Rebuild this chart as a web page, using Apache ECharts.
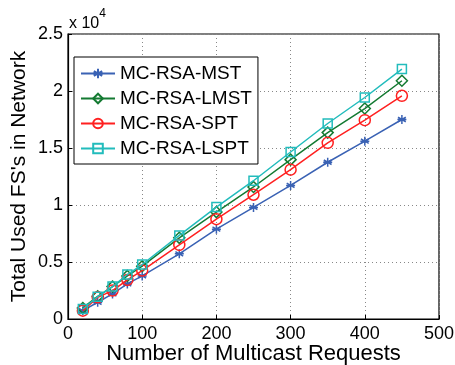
<!DOCTYPE html>
<html><head><meta charset="utf-8">
<script src="https://cdn.jsdelivr.net/npm/echarts@6/dist/echarts.min.js"></script>
<style>html,body{margin:0;padding:0;background:#fff}#c{width:455px;height:365px}</style>
</head><body><div id="c"></div>
<script>
const xValues = [20, 40, 60, 80, 100, 150, 200, 250, 300, 350, 400, 450];
const mst  = [730, 1470, 2200, 3080, 3780, 5720, 7880, 9790, 11720, 13750, 15600, 17500];
const lmst = [970, 1990, 2840, 3780, 4630, 7120, 9380, 11580, 13980, 16350, 18460, 20900];
const spt  = [730, 1900, 2490, 3430, 4250, 6500, 8760, 10900, 13100, 15450, 17440, 19580];
const lspt = [880, 1960, 2840, 3900, 4780, 7330, 9820, 12130, 14650, 17150, 19430, 21920];
const seriesNames = ['MC-RSA-MST', 'MC-RSA-LMST', 'MC-RSA-SPT', 'MC-RSA-LSPT'];
const xTicks = [0, 100, 200, 300, 400, 500];
const yTickLabels = ['0', '0.5', '1', '1.5', '2', '2.5'];

const colors = ['#3a62b4', '#147a32', '#ff2020', '#22bcbc'];
const star = 'path://M0,-10L0,10M-8.66,-5L8.66,5M-8.66,5L8.66,-5M-10,0L10,0';
const symbols = [star, 'diamond', 'circle', 'rect'];
const sizes = [9, 11, 11, 9];
const dataSets = [mst, lmst, spt, lspt];
const font = 'Liberation Sans, Arial, sans-serif';

const chart = echarts.init(document.getElementById('c'));
chart.setOption({
  animation: false,
  textStyle: {fontFamily: font},
  grid: {left: 68, right: 16, top: 34, bottom: 46, show: true, borderColor: '#000', borderWidth: 1.2,
         backgroundColor: 'transparent', containLabel: false, outerBoundsMode: 'none'},
  legend: {
    left: 74, top: 57, orient: 'vertical',
    itemWidth: 34, itemHeight: 12, itemGap: 6,
    borderColor: '#000', borderWidth: 1, padding: [7, 6, 6, 6],
    backgroundColor: '#fff',
    textStyle: {fontSize: 19, color: '#000', fontFamily: font, padding: [0, 0, 0, 0]},
    data: seriesNames
  },
  xAxis: {
    type: 'value', min: 0, max: 500, interval: 100,
    name: 'Number of Multicast Requests', nameLocation: 'middle', nameGap: 24, nameMoveOverlap: false,
    nameTextStyle: {fontSize: 22, color: '#000'},
    axisLine: {show: true, lineStyle: {color: '#000', width: 1.2}},
    axisTick: {show: true, inside: true, length: 4, lineStyle: {color: '#000'}},
    axisLabel: {fontSize: 18, color: '#000', margin: 6, formatter: v => xTicks.includes(v) ? String(v) : ''},
    splitLine: {show: true, lineStyle: {color: '#888', type: [1, 3], width: 1}}
  },
  yAxis: {
    type: 'value', min: 0, max: 25000, interval: 5000,
    name: 'Total Used FS\'s in Network', nameLocation: 'middle', nameGap: 38, nameMoveOverlap: false,
    nameTextStyle: {fontSize: 21, color: '#000'},
    axisLine: {show: true, lineStyle: {color: '#000', width: 1.2}},
    axisTick: {show: true, inside: true, length: 4, lineStyle: {color: '#000'}},
    axisLabel: {fontSize: 18, color: '#000', margin: 5, formatter: v => yTickLabels[Math.round(v / 5000)]},
    splitLine: {show: true, lineStyle: {color: '#888', type: [1, 3], width: 1}}
  },
  graphic: [{
    type: 'text', left: 69, top: 8,
    style: {
      text: '{a|x 10}{b|4}',
      rich: {
        a: {fontSize: 16, fontFamily: font, fill: '#000', verticalAlign: 'bottom', padding: [8, 0, 0, 0]},
        b: {fontSize: 12, fontFamily: font, fill: '#000', verticalAlign: 'top'}
      }
    }
  }],
  series: dataSets.map((d, i) => ({
    name: seriesNames[i], type: 'line',
    data: d.map((v, j) => [xValues[j], v]),
    symbol: symbols[i], symbolSize: sizes[i], showAllSymbol: true,
    lineStyle: {color: colors[i], width: 1.5},
    itemStyle: {color: i === 0 ? colors[i] : 'rgba(0,0,0,0)', borderColor: colors[i], borderWidth: 1.5},
    z: 2 + i
  }))
});
</script></body></html>
